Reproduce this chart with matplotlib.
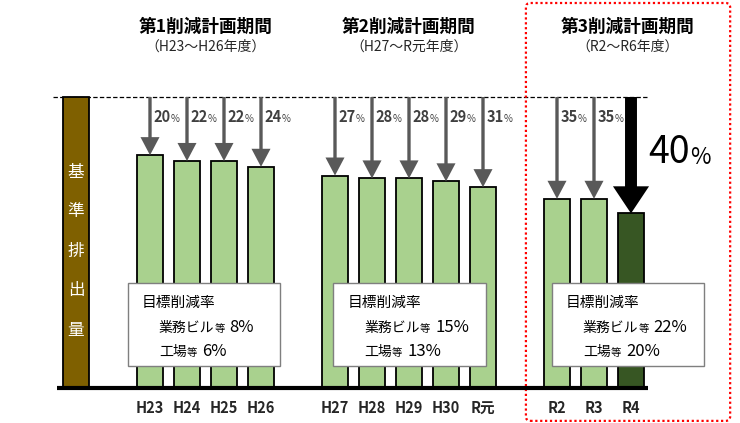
import matplotlib
matplotlib.use("Agg")
import matplotlib.pyplot as plt
from matplotlib.patches import FancyArrowPatch, FancyBboxPatch, Rectangle, ArrowStyle

plt.rcParams["font.family"] = ["Noto Sans CJK JP", "DejaVu Sans"]

# data
years = ["H23", "H24", "H25", "H26", "H27", "H28", "H29", "H30", "R元", "R2", "R3", "R4"]
reduction = [20, 22, 22, 24, 27, 28, 28, 29, 31, 35, 35, 40]
group_sizes = [4, 5, 3]
titles = ["第1削減計画期間", "第2削減計画期間", "第3削減計画期間"]
subtitles = ["（H23～H26年度）", "（H27～R元年度）", "（R2～R6年度）"]
target_building = [8, 15, 22]
target_factory = [6, 13, 20]
base_label = "基準排出量"
base_value = 100

GREEN = "#A9D18E"
DARK = "#375623"
BROWN = "#7F6000"
GRAY = "#595959"

# x positions: groups separated by one empty slot
pos = []
x = 0
for g in group_sizes:
    for i in range(g):
        pos.append(x)
        x += 1
    x += 1
base_x = -2

fig = plt.figure(figsize=(7.4, 4.23), dpi=100)
ax = fig.add_axes([0, 0, 1, 1])
ax.set_xlim(-4.054, 15.946)
ax.set_ylim(-12.03, 133.33)
ax.axis("off")

heights = [base_value - r for r in reduction]
colors = [GREEN] * (len(years) - 1) + [DARK]
ax.bar(pos, heights, width=0.68, color=colors, edgecolor="black", linewidth=1.3, zorder=2)
ax.bar(base_x, base_value, width=0.68, color=BROWN, edgecolor="black", linewidth=1.3, zorder=2)
# vertical label, one character per line
for k, ch in enumerate(base_label):
    ax.text(base_x, 74.2 - 13.6 * k, ch, color="white", fontsize=12,
            ha="center", va="center", zorder=3)

# base and reference lines
ax.plot([-2.51, 13.46], [0, 0], color="black", lw=3, zorder=3, solid_capstyle="butt")
ax.plot([-2.62, 13.46], [base_value, base_value], color="black", lw=0.9,
        linestyle=(0, (3.5, 1.8)), zorder=1)

# arrows and labels
for i, (xp, h, r) in enumerate(zip(pos, heights, reduction)):
    last = i == len(years) - 1
    if last:
        style = ArrowStyle.Simple(head_length=19.5, head_width=26, tail_width=8.6)
        col = "black"
    else:
        style = ArrowStyle.Simple(head_length=13, head_width=13.7, tail_width=2.4)
        col = GRAY
    arr = FancyArrowPatch((xp, base_value), (xp, h), arrowstyle=style, mutation_scale=1,
                          color=col, lw=0, shrinkA=0, shrinkB=0, zorder=4)
    ax.add_patch(arr)
    if last:
        t = ax.text(13.46, 80.8, str(r), fontsize=27, ha="left", va="center", zorder=5)
        ax.annotate("%", xy=(1, 0), xycoords=t, xytext=(0, 2.2), textcoords="offset points",
                    fontsize=16, ha="left", va="bottom")
    else:
        t = ax.text(xp + 0.1, 93, str(r), fontsize=10.5, fontweight="bold", color="#404040",
                    ha="left", va="center", zorder=5)
        ax.annotate("%", xy=(1, 0), xycoords=t, xytext=(0, 0.7), textcoords="offset points",
                    fontsize=7, color="#404040", ha="left", va="bottom")
    ax.text(xp, -6.9, years[i], fontsize=10.5, fontweight="bold", color="#262626",
            ha="center", va="center")

# period titles
title_x = [1.5, 7, 12.92]
for tx, tt, st in zip(title_x, titles, subtitles):
    ax.text(tx, 124.1, tt, fontsize=12.7, fontweight="bold", ha="center", va="center")
    ax.text(tx, 117.2, st, fontsize=10, ha="center", va="center", color="#262626")

# target boxes
box_left = [-0.6, 4.95, 10.86]
for x0, b, f in zip(box_left, target_building, target_factory):
    ax.add_patch(Rectangle((x0, 7.56), 4.12, 28.5, facecolor="white", edgecolor="#7F7F7F",
                           lw=1, zorder=6))
    ax.text(x0 + 0.38, 29.2, "目標削減率", fontsize=10.6, ha="left", va="center", zorder=7)
    for yy, name, val in [(20.6, "業務ビル", b), (12.4, "工場", f)]:
        t1 = ax.text(x0 + 0.84, yy, name, fontsize=10, ha="left", va="center", zorder=7)
        ax.annotate("等", xy=(1, 0), xycoords=t1, xytext=(0, 0.6), textcoords="offset points",
                    fontsize=7.5, ha="left", va="bottom", zorder=7)
        ax.annotate(f"{val}%", xy=(1, 0), xycoords=t1, xytext=(11, -0.5),
                    textcoords="offset points", fontsize=12, ha="left", va="bottom", zorder=7)

# dotted red frame around third period
frame = FancyBboxPatch((10.16, -11.3), 5.52, 143.6,
                       boxstyle="round,pad=0,rounding_size=0.12", mutation_aspect=12.7,
                       facecolor="none", edgecolor="red", lw=1.6, linestyle=(0, (1, 1.2)),
                       zorder=1)
ax.add_patch(frame)

fig.savefig("out.png", dpi=100)
